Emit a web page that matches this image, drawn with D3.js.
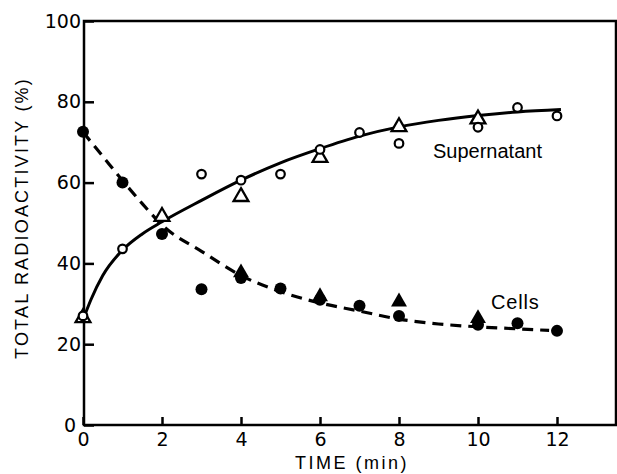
<!DOCTYPE html>
<html>
<head>
<meta charset="utf-8">
<script src="https://cdn.jsdelivr.net/npm/d3@7"></script>
<style>
  body { margin: 0; background: #fff; }
  svg { display: block; }
</style>
</head>
<body>
<script>
// values (time in min, radioactivity in %)
let supCircleT = [0, 1, 3, 4, 5, 6, 7, 8, 10, 11, 12];
let supCircleV = [27, 43.6, 62.1, 60.6, 62.1, 68.2, 72.4, 69.7, 73.7, 78.6, 76.5];
let supTriT = [0, 2, 4, 6, 8, 10];
let supTriV = [26.5, 51.6, 56.5, 66.2, 73.8, 75.7];
let cellCircleT = [0, 1, 2, 3, 4, 5, 6, 7, 8, 10, 11, 12];
let cellCircleV = [72.6, 60, 47.3, 33.6, 36.4, 33.8, 31, 29.5, 27, 24.8, 25.2, 23.3];
let cellTriT = [4, 6, 8, 10];
let cellTriV = [37.7, 31.8, 30.5, 26.4];

// fitted curves as drawn in the figure
let supCurveT = [0, 0.2, 0.5, 1, 1.5, 2, 3, 4, 5, 6, 7, 8, 9, 10, 11, 12.1];
let supCurveV = [26, 31, 37, 43.3, 47.3, 50.3, 55.6, 60.6, 64.9, 68.4, 71.5, 73.8, 75.4, 76.6, 77.5, 78.1];
let cellCurveT = [0, 0.5, 1, 1.5, 2, 3, 4, 5, 6, 7, 8, 9, 10, 11, 11.8];
let cellCurveV = [72.5, 66.5, 60.5, 54.8, 49.5, 43, 37, 33, 30.2, 28.2, 26.2, 25, 24.3, 23.8, 23.4];

let xTicks = [0, 2, 4, 6, 8, 10, 12];
let yTicks = [0, 20, 40, 60, 80, 100];

let width = 617, height = 474;
let margin = {left: 84, right: 616, top: 21, bottom: 425};

let svg = d3.select("body").append("svg")
    .attr("width", width)
    .attr("height", height);

let x = d3.scaleLinear().domain([0, 13.5]).range([margin.left - 1, margin.left - 1 + 13.5 * 39.5]);
let y = d3.scaleLinear().domain([0, 100]).range([margin.bottom, margin.top]);

let zip = (a, b) => a.map((d, i) => [d, b[i]]);

// axes, ticks pointing inward
let xAxis = d3.axisBottom(x).tickValues(xTicks).tickSize(-8).tickPadding(8).tickFormat(d3.format("d"));
let yAxis = d3.axisLeft(y).tickValues(yTicks).tickSize(-10).tickPadding(3).tickFormat(d3.format("d"));

let gx = svg.append("g")
    .attr("transform", "translate(0," + margin.bottom + ")")
    .call(xAxis);
let gy = svg.append("g")
    .attr("transform", "translate(" + margin.left + ",0)")
    .call(yAxis);

[gx, gy].forEach(g => {
    g.select(".domain").remove();
    g.selectAll("line").attr("stroke", "#000").attr("stroke-width", 2.5);
    g.selectAll("text")
        .attr("fill", "#000")
        .style("font-family", "DejaVu Sans")
        .style("font-size", "19px");
});
gy.selectAll(".tick").filter(d => d === 0)
    .select("text").attr("x", -8);

// frame
svg.append("rect")
    .attr("x", margin.left)
    .attr("y", margin.top)
    .attr("width", margin.right - margin.left)
    .attr("height", margin.bottom - margin.top)
    .attr("fill", "none")
    .attr("stroke", "#000")
    .attr("stroke-width", 2.5);

let line = d3.line()
    .x(d => x(d[0]))
    .y(d => y(d[1]))
    .curve(d3.curveMonotoneX);

svg.append("path")
    .datum(zip(supCurveT, supCurveV))
    .attr("d", line)
    .attr("fill", "none")
    .attr("stroke", "#000")
    .attr("stroke-width", 3);

svg.append("path")
    .datum(zip(cellCurveT, cellCurveV))
    .attr("d", line)
    .attr("fill", "none")
    .attr("stroke", "#000")
    .attr("stroke-width", 3.2)
    .attr("stroke-dasharray", "11,7");

// markers
let tri = d3.symbol().type(d3.symbolTriangle);

svg.selectAll(".supTri")
    .data(zip(supTriT, supTriV))
    .enter().append("path")
    .attr("d", tri.size(95)())
    .attr("transform", d => "translate(" + x(d[0]) + "," + y(d[1]) + ")")
    .attr("fill", "#fff")
    .attr("stroke", "#000")
    .attr("stroke-width", 2.3);

svg.selectAll(".supCircle")
    .data(zip(supCircleT, supCircleV))
    .enter().append("circle")
    .attr("cx", d => x(d[0]))
    .attr("cy", d => y(d[1]))
    .attr("r", 4.3)
    .attr("fill", "#fff")
    .attr("stroke", "#000")
    .attr("stroke-width", 2.2);

svg.selectAll(".cellCircle")
    .data(zip(cellCircleT, cellCircleV))
    .enter().append("circle")
    .attr("cx", d => x(d[0]))
    .attr("cy", d => y(d[1]))
    .attr("r", 6)
    .attr("fill", "#000");

svg.selectAll(".cellTri")
    .data(zip(cellTriT, cellTriV))
    .enter().append("path")
    .attr("d", tri.size(110)())
    .attr("transform", d => "translate(" + x(d[0]) + "," + y(d[1]) + ")")
    .attr("fill", "#000");

// labels
svg.append("text")
    .attr("x", 433)
    .attr("y", 158)
    .style("font-family", "Liberation Sans")
    .style("font-size", "20px")
    .text("Supernatant");

svg.append("text")
    .attr("x", 491)
    .attr("y", 309)
    .style("font-family", "Liberation Sans")
    .style("font-size", "20px")
    .style("letter-spacing", "0.8px")
    .text("Cells");

svg.append("text")
    .attr("transform", "translate(28,218) rotate(-90)")
    .attr("text-anchor", "middle")
    .style("font-family", "Liberation Sans")
    .style("font-size", "18px")
    .style("letter-spacing", "2.2px")
    .text("TOTAL RADIOACTIVITY (%)");

svg.append("text")
    .attr("x", 352)
    .attr("y", 469)
    .attr("text-anchor", "middle")
    .style("font-family", "Liberation Sans")
    .style("font-size", "18px")
    .style("letter-spacing", "2.5px")
    .text("TIME (min)");
</script>
</body>
</html>
